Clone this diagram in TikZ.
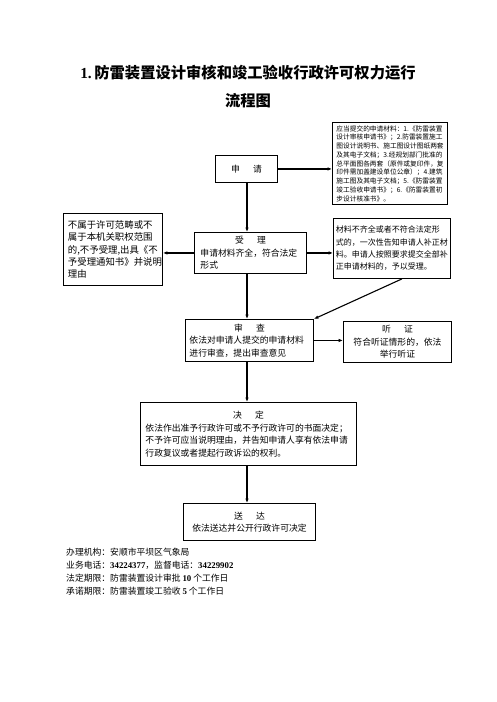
\documentclass[tikz,border=0pt]{standalone}
\usepackage{fontspec}
\setmainfont{Noto Sans CJK SC}
\newfontfamily\lsf{Liberation Serif}
\usetikzlibrary{arrows.meta}
\begin{document}
\begin{tikzpicture}[x=1pt,y=-1pt,
  box/.style={draw, line width=0.9pt, inner sep=0pt, anchor=north west},
  conn/.style={line width=1.1pt, -{Latex[length=4.5pt,width=3.6pt]}},
  fb/.style={font=\fontsize{8.8}{12.5}\selectfont},
  fs/.style={font=\fontsize{6.7}{8.75}\selectfont},
]
\useasboundingbox (0,0) rectangle (496,702);
\coordinate (axis) at (247,0);

% title
\node[font=\fontsize{15.3}{18}\selectfont\bfseries] (t1) at (248,73) {{\lsf\bfseries 1.}\,防雷装置设计审核和竣工验收行政许可权力运行};
\node[font=\fontsize{15.3}{18}\selectfont\bfseries] (t2) at (248,101) {流程图};

% boxes
\node[box, fb, minimum width=62, minimum height=27, align=center] (shen) at (215,155) {申\hspace{1.5em}请};

\node[box, fs, minimum width=115, minimum height=82, text width=107, align=left] (req) at (332,122)
{应当提交的申请材料：1.《防雷装置\\设计审核申请书》；2.防雷装置施工\\图设计说明书、施工图设计图纸两套\\及其电子文档；3.经规划部门批准的\\总平面图各两套（原件或复印件，复\\印件需加盖建设单位公章）；4.建筑\\施工图及其电子文档；5.《防雷装置\\竣工验收申请书》；6.《防雷装置初\\步设计核准书》。};

\node[box, font=\fontsize{9.4}{12.3}\selectfont, minimum width=99, minimum height=72, text width=90, align=left] (left) at (63,213)
{不属于许可范畴或不\\属于本机关职权范围\\的,不予受理,出具《不\\予受理通知书》并说明\\理由};

\node[box, fb, minimum width=112, minimum height=41, text width=100] (shouli) at (194,232)
{\centering 受\hspace{1.5em}理\par\raggedright 申请材料齐全，符合法定\\形式\par};

\node[box, font=\fontsize{8}{12.3}\selectfont, minimum width=117, minimum height=60, text width=112, align=left] (mat) at (333,218)
{材料不齐全或者不符合法定形\\式的，一次性告知申请人补正材\\料。申请人按照要求提交全部补\\正申请材料的，予以受理。};

\node[box, fb, minimum width=128, minimum height=42, text width=120] (shencha) at (185,319)
{\centering 审\hspace{1.5em}查\par\raggedright 依法对申请人提交的申请材料\\进行审查，提出审查意见\par};

\node[box, fb, minimum width=108, minimum height=41, text width=100, align=center] (ting) at (343,321)
{听\hspace{1.5em}证\\符合听证情形的，依法\\举行听证};

\node[box, fb, minimum width=216, minimum height=63, text width=206] (jue) at (140,402)
{\centering 决\hspace{1.5em}定\par\raggedright 依法作出准予行政许可或不予行政许可的书面决定；\\不予许可应当说明理由，并告知申请人享有依法申请\\行政复议或者提起行政诉讼的权利。\par};

\node[box, fb, minimum width=132, minimum height=37, align=center] (song) at (183,503)
{送\hspace{1.5em}达\\依法送达并公开行政许可决定};

% footer
\node[fb, font=\fontsize{8.8}{13}\selectfont, anchor=north west, inner sep=0pt, align=left] (foot) at (66,548)
{办理机构：安顺市平坝区气象局\\业务电话：{\lsf\bfseries 34224377}，监督电话：{\lsf\bfseries 34229902}\\法定期限：防雷装置设计审批 {\lsf\bfseries 10} 个工作日\\承诺期限：防雷装置竣工验收 {\lsf\bfseries 5} 个工作日};

% connectors
\draw[conn] (shen.east) -- (req.west |- shen.east);
\draw[conn] (shen.south -| axis) -- (shouli.north -| axis);
\draw[conn] (shouli.west) -- (left.east |- shouli.west);
\draw[conn] (shouli.east) -- (mat.west |- shouli.east);
\draw[conn] ([xshift=10pt]mat.south) -- (shencha.north east);
\draw[conn] (shouli.south -| axis) -- (shencha.north -| axis);
\draw[conn] (shencha.east) -- (ting.west |- shencha.east);
\draw[conn] (shencha.south -| axis) -- (jue.north -| axis);
\draw[conn] (jue.south -| axis) -- (song.north -| axis);
\end{tikzpicture}
\end{document}
